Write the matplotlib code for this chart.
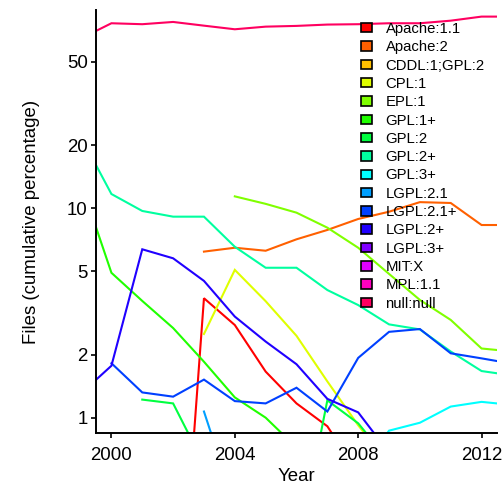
import colorsys

import matplotlib

matplotlib.use("Agg")
import matplotlib.pyplot as plt
import numpy as np
from matplotlib.patches import Patch
from matplotlib.ticker import FixedLocator, NullLocator

nan = np.nan

years = [1999, 2000, 2001, 2002, 2003, 2004, 2005, 2006, 2007, 2008, 2009, 2010, 2011, 2012, 2013]

licenses = ["Apache:1.1", "Apache:2", "CDDL:1;GPL:2", "CPL:1", "EPL:1", "GPL:1+", "GPL:2",
            "GPL:2+", "GPL:3+", "LGPL:2.1", "LGPL:2.1+", "LGPL:2+", "LGPL:3+", "MIT:X",
            "MPL:1.1", "null:null"]

apache_11 = [nan, nan, nan, 0.036, 3.72, 2.77, 1.66, 1.17, 0.91, 0.54, nan, nan, nan, nan, nan]
apache_2 = [nan, nan, nan, nan, 6.21, 6.48, 6.27, 7.11, 7.88, 8.89, 9.63, 10.7, 10.6, 8.32, 8.32]
cddl_gpl2 = [nan] * 15
cpl_1 = [nan, nan, nan, nan, 2.51, 5.08, 3.6, 2.46, 1.49, 0.92, 0.6, nan, nan, nan, nan]
epl_1 = [nan, nan, nan, nan, nan, 11.4, 10.5, 9.53, 8.08, 6.48, 4.86, 3.65, 2.93, 2.14, 2.07]
gpl_1p = [13.4, 4.92, 3.61, 2.68, 1.85, 1.25, 1.0, 0.72, nan, nan, nan, nan, nan, nan, nan]
gpl_2 = [nan, nan, 1.22, 1.17, 0.6, 0.4, 0.3, 0.22, 1.21, 0.94, 0.62, nan, nan, nan, nan]
gpl_2p = [22.1, 11.7, 9.71, 9.12, 9.12, 6.55, 5.2, 5.2, 4.07, 3.45, 2.79, 2.64, 2.07, 1.67, 1.59]
gpl_3p = [nan, nan, nan, nan, nan, nan, nan, nan, nan, 0.55, 0.867, 0.946, 1.13, 1.19, 1.15]
lgpl_21 = [nan, nan, nan, nan, 1.07, 0.38, nan, nan, nan, nan, nan, nan, nan, nan, nan]
lgpl_21p = [nan, 1.82, 1.32, 1.26, 1.52, 1.2, 1.17, 1.39, 1.07, 1.93, 2.57, 2.65, 2.03, 1.92, 1.81]
lgpl_2p = [1.3, 1.77, 6.37, 5.77, 4.5, 3.04, 2.31, 1.8, 1.23, 1.06, 0.68, nan, nan, nan, nan]
lgpl_3p = [nan] * 15
mit_x = [nan] * 15
mpl_11 = [nan] * 15
null_null = [64.6, 76.5, 75.7, 77.6, 74.5, 71.6, 73.7, 74.3, 75.4, 75.7, 76.5, 76.5, 78.7, 82.3, 82.3]

series = [apache_11, apache_2, cddl_gpl2, cpl_1, epl_1, gpl_1p, gpl_2, gpl_2p, gpl_3p,
          lgpl_21, lgpl_21p, lgpl_2p, lgpl_3p, mit_x, mpl_11, null_null]

y_ticks = [1, 2, 5, 10, 20, 50]
x_ticks = [2000, 2004, 2008, 2012]

# R-style rainbow(16)
colors = [colorsys.hsv_to_rgb(i / len(licenses), 1, 1) for i in range(len(licenses))]

plt.rcParams["font.family"] = ["Liberation Sans", "DejaVu Sans"]

fig = plt.figure(figsize=(5.03, 4.84), dpi=100)
ax = fig.add_axes([96 / 503, 1 - 433 / 484, 401 / 503, 423 / 484])

for vals, col in zip(series, colors):
    ax.plot(years, vals, color=col, lw=1.5, solid_joinstyle="miter")

ax.set_yscale("log")
ax.set_xlim(1999.5, 2012.5)
ax.set_ylim(0.845, 88.5)
ax.yaxis.set_major_locator(FixedLocator(y_ticks))
ax.yaxis.set_minor_locator(NullLocator())
ax.set_yticklabels([str(t) for t in y_ticks])
ax.set_xticks(x_ticks)
ax.set_xticklabels([str(t) for t in x_ticks])

for side in ("top", "right"):
    ax.spines[side].set_visible(False)
for side in ("left", "bottom"):
    ax.spines[side].set_linewidth(1.4)
ax.tick_params(axis="both", direction="out", length=3.8, width=1.2, labelsize=13.4, colors="black")
ax.tick_params(axis="x", pad=6.5)
ax.tick_params(axis="y", pad=2.2)

ax.set_xlabel("Year", fontsize=13.4, labelpad=2.5)
ax.set_ylabel("Files (cumulative percentage)", fontsize=13.4, labelpad=19)

handles = [Patch(facecolor=c, edgecolor="black", lw=1.2) for c in colors]
ax.legend(handles, licenses, loc="upper left", bbox_to_anchor=(361 / 503, 1 - 22 / 484),
          bbox_transform=fig.transFigure, frameon=False, fontsize=10.7, borderpad=0,
          borderaxespad=0, handlelength=0.75, handleheight=0.6, handletextpad=0.9,
          labelspacing=0.29)

fig.savefig("out.png", dpi=100)
